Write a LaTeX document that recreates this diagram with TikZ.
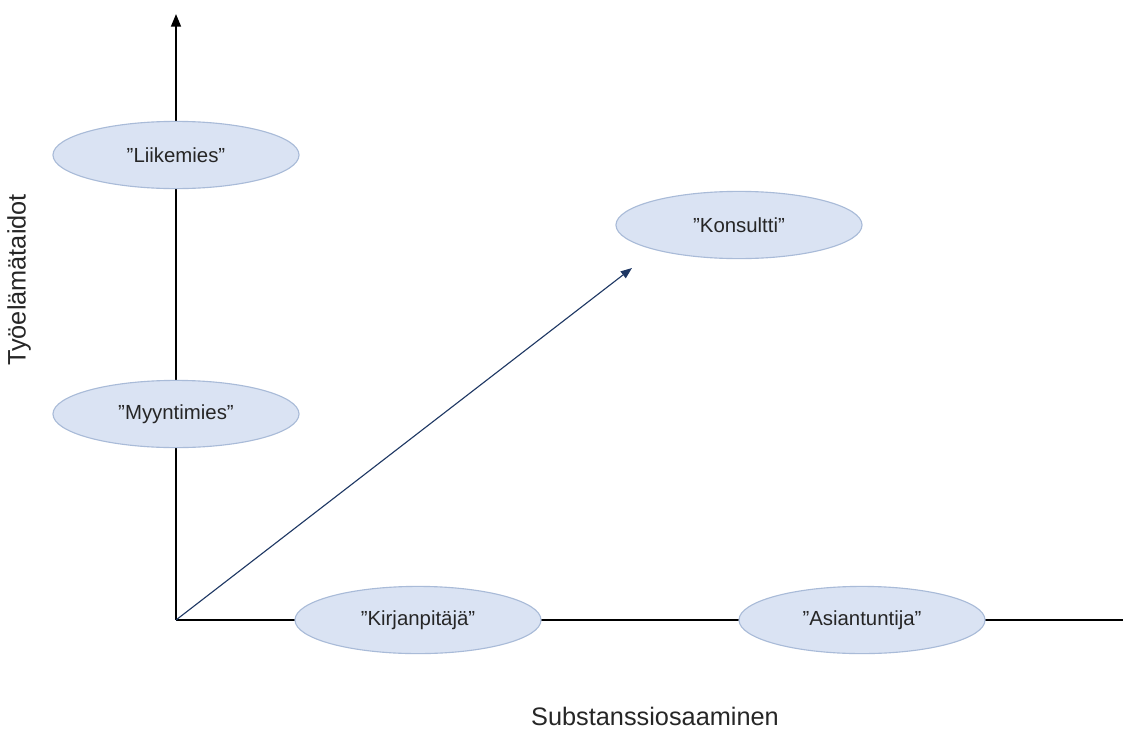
\documentclass[tikz,border=0pt]{standalone}
\usepackage{fontspec}
\setmainfont{Liberation Sans}
\usetikzlibrary{shapes.geometric, arrows.meta}

\definecolor{roolifill}{HTML}{DAE3F3}
\definecolor{rooliraja}{HTML}{A9BBD8}
\definecolor{nuoli}{HTML}{1F3864}
\definecolor{teksti}{HTML}{262626}

\tikzset{
	rooli/.style={ellipse, draw=rooliraja, thick, fill=roolifill,
		minimum width=6.15cm, minimum height=1.68cm, text=teksti,
		font=\fontsize{14.5}{17}\selectfont},
	akseli/.style={line width=1.4pt, black},
	otsikko/.style={text=teksti, inner sep=1pt, font=\fontsize{18}{21}\selectfont}
}

\begin{document}
\begin{tikzpicture}[x=0.025cm, y=-0.025cm]
			\useasboundingbox (0, 0) rectangle (1123, 730);

			\coordinate (origo) at (176, 620);
			\coordinate (ylos) at (176, 14);
			\coordinate (oikea) at (1123, 620);
			\coordinate (karki) at (632, 268);

			\draw [akseli, -{Triangle[length=9pt, width=7pt]}] (origo) -- (ylos);
			\draw [akseli] (origo) -- (oikea);
			\draw [nuoli, line width=0.8pt, -{Triangle[length=8pt, width=6pt]}]
			(origo) -- (karki);

			\node [rooli] (liikemies) at (176, 155) {”Liikemies”};
			\node [rooli] (myyntimies) at (176, 414) {”Myyntimies”};
			\node [rooli] (konsultti) at (739, 225) {”Konsultti”};
			\node [rooli] (kirjanpitaja) at (418, 620) {”Kirjanpitäjä”};
			\node [rooli] (asiantuntija) at (862, 620) {”Asiantuntija”};

			\node [otsikko, rotate=90] (tyoelama) at (19, 280) {Työelämätaidot};
			\node [otsikko] (substanssi) at (655, 716) {Substanssiosaaminen};
		\end{tikzpicture}
\end{document}
